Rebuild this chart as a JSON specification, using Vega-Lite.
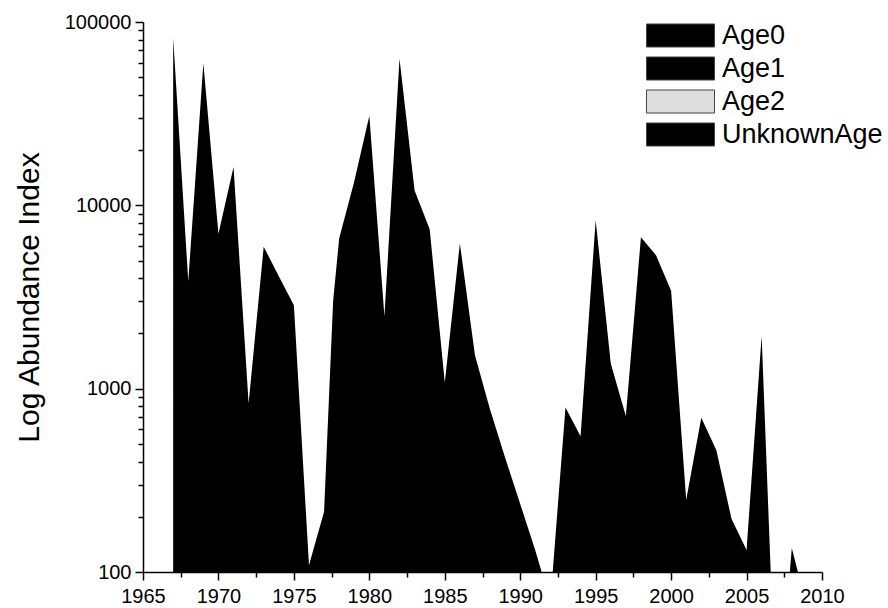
{
  "$schema": "https://vega.github.io/schema/vega-lite/v6.json",
  "width": 679,
  "height": 550,
  "autosize": {"type": "none"},
  "padding": {"left": 143, "top": 22, "right": 66, "bottom": 36},
  "background": "white",
  "config": {
    "view": {"stroke": null},
    "font": "Liberation Sans",
    "axis": {
      "grid": false,
      "domainColor": "black",
      "domainWidth": 1.5,
      "tickColor": "black",
      "tickWidth": 1.5,
      "labelColor": "black",
      "labelFont": "Liberation Sans",
      "labelFontSize": 20,
      "titleFont": "Liberation Sans",
      "titleFontWeight": "normal",
      "titleColor": "black"
    }
  },
  "data": {
    "values": [
      {"year": 1967, "abundance": 82000, "series": "Age0"},
      {"year": 1968, "abundance": 3850, "series": "Age0"},
      {"year": 1969, "abundance": 59500, "series": "Age0"},
      {"year": 1970, "abundance": 7000, "series": "Age0"},
      {"year": 1971, "abundance": 16200, "series": "Age0"},
      {"year": 1972, "abundance": 830, "series": "Age0"},
      {"year": 1973, "abundance": 5950, "series": "Age0"},
      {"year": 1974, "abundance": 4100, "series": "Age0"},
      {"year": 1975, "abundance": 2850, "series": "Age0"},
      {"year": 1976, "abundance": 109, "series": "Age0"},
      {"year": 1977, "abundance": 213, "series": "Age0"},
      {"year": 1977.6, "abundance": 3000, "series": "Age0"},
      {"year": 1978, "abundance": 6600, "series": "Age0"},
      {"year": 1979, "abundance": 13500, "series": "Age0"},
      {"year": 1980, "abundance": 30800, "series": "Age0"},
      {"year": 1981, "abundance": 2480, "series": "Age0"},
      {"year": 1982, "abundance": 63000, "series": "Age0"},
      {"year": 1983, "abundance": 12050, "series": "Age0"},
      {"year": 1984, "abundance": 7400, "series": "Age0"},
      {"year": 1985, "abundance": 1080, "series": "Age0"},
      {"year": 1986, "abundance": 6200, "series": "Age0"},
      {"year": 1987, "abundance": 1520, "series": "Age0"},
      {"year": 1988, "abundance": 770, "series": "Age0"},
      {"year": 1989, "abundance": 420, "series": "Age0"},
      {"year": 1990, "abundance": 235, "series": "Age0"},
      {"year": 1991, "abundance": 131, "series": "Age0"},
      {"year": 1992, "abundance": 69, "series": "Age0"},
      {"year": 1993, "abundance": 790, "series": "Age0"},
      {"year": 1994, "abundance": 550, "series": "Age0"},
      {"year": 1995, "abundance": 8300, "series": "Age0"},
      {"year": 1996, "abundance": 1370, "series": "Age0"},
      {"year": 1997, "abundance": 710, "series": "Age0"},
      {"year": 1998, "abundance": 6700, "series": "Age0"},
      {"year": 1999, "abundance": 5350, "series": "Age0"},
      {"year": 2000, "abundance": 3420, "series": "Age0"},
      {"year": 2001, "abundance": 247, "series": "Age0"},
      {"year": 2002, "abundance": 693, "series": "Age0"},
      {"year": 2003, "abundance": 462, "series": "Age0"},
      {"year": 2004, "abundance": 195, "series": "Age0"},
      {"year": 2005, "abundance": 132, "series": "Age0"},
      {"year": 2006, "abundance": 1940, "series": "Age0"},
      {"year": 2007, "abundance": 14, "series": "Age0"},
      {"year": 2008, "abundance": 135, "series": "Age0"},
      {"year": 2009, "abundance": 64, "series": "Age0"}
    ]
  },
  "mark": {"type": "area", "clip": true, "interpolate": "linear"},
  "encoding": {
    "x": {
      "field": "year", "type": "quantitative",
      "scale": {"domain": [1965, 2010], "nice": false, "zero": false},
      "axis": {
        "orient": "bottom",
        "values": [1965, 1967.5, 1970, 1972.5, 1975, 1977.5, 1980, 1982.5, 1985, 1987.5, 1990, 1992.5, 1995, 1997.5, 2000, 2002.5, 2005, 2007.5, 2010],
        "labelExpr": "datum.value % 5 === 0 ? format(datum.value, 'd') : ''",
        "tickSize": {"condition": {"test": "datum.value % 5 === 0", "value": 8}, "value": 5},
        "labelPadding": 6, "title": null,
        "labelFlush": false, "labelOverlap": false
      }
    },
    "y": {
      "field": "abundance", "type": "quantitative", "stack": null,
      "scale": {"type": "log", "domain": [100, 100000], "nice": false},
      "axis": {
        "orient": "left",
        "values": [100, 200, 300, 400, 500, 600, 700, 800, 900, 1000, 2000, 3000, 4000, 5000, 6000, 7000, 8000, 9000, 10000, 20000, 30000, 40000, 50000, 60000, 70000, 80000, 90000, 100000],
        "labelExpr": "indexof([100, 1000, 10000, 100000], datum.value) >= 0 ? format(datum.value, 'd') : ''",
        "tickSize": {"condition": {"test": "indexof([100, 1000, 10000, 100000], datum.value) >= 0", "value": 8}, "value": 5},
        "labelPadding": 4,
        "title": "Log Abundance Index", "titleFontSize": 30, "titlePadding": 20,
        "labelFlush": false, "labelOverlap": false
      }
    },
    "color": {
      "field": "series", "type": "nominal",
      "scale": {"domain": ["Age0", "Age1", "Age2", "UnknownAge"], "range": ["#000000", "#000000", "#dddddd", "#000000"]},
      "legend": {
        "title": null, "orient": "none", "legendX": 524, "legendY": 0,
        "padding": 0,
        "symbolType": "M-3,-1.015H3V1.015H-3Z", "symbolSize": 514,
        "symbolStrokeColor": "#444444", "symbolStrokeWidth": 1,
        "symbolOpacity": 1,
        "labelFont": "Liberation Sans", "labelFontSize": 27, "labelColor": "black",
        "labelOffset": 28, "labelLimit": 300, "rowPadding": 4
      }
    }
  }
}
